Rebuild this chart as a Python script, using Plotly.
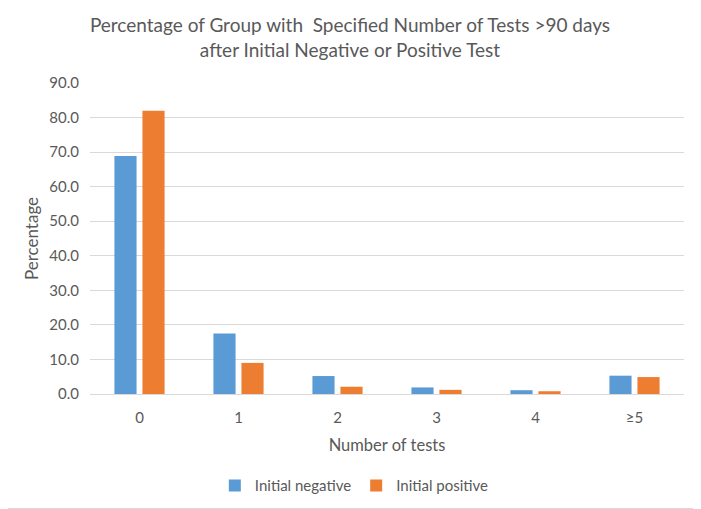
import plotly.graph_objects as go

categories = ["0", "1", "2", "3", "4", "≥5"]
initial_negative = [68.9, 17.5, 5.2, 1.9, 1.1, 5.3]
initial_positive = [82.0, 9.0, 2.1, 1.2, 0.8, 4.9]
y_ticks = [0, 10, 20, 30, 40, 50, 60, 70, 80, 90]

font_family = "Lato, 'Open Sans', sans-serif"
grey = "#595959"

fig = go.Figure()
fig.add_trace(go.Bar(x=categories, y=initial_negative, name="Initial negative",
                     marker=dict(color="#5B9BD5", line=dict(width=0))))
fig.add_trace(go.Bar(x=categories, y=initial_positive, name="Initial positive",
                     marker=dict(color="#ED7D31", line=dict(width=0))))

# page body adds an 8px offset, so the figure is sized to end at the window edge
W, H = 693, 501
L, R, T, B = 82, 17, 75, 115
pw, ph = W - L - R, H - T - B

fig.update_layout(
    width=W, height=H,
    margin=dict(l=L, r=R, t=T, b=B, autoexpand=False),
    paper_bgcolor="white", plot_bgcolor="white",
    font=dict(family=font_family, color=grey, size=14),
    title=dict(text="Percentage of Group with  Specified Number of Tests >90 days<br>after Initial Negative or Positive Test",
               x=0.4935, xanchor="center", y=0.952, yanchor="top",
               font=dict(size=19, color=grey), automargin=False),
    barmode="group", bargap=0.434, bargroupgap=0.21,
    xaxis=dict(title=dict(text="Number of tests", font=dict(size=16.5), standoff=14),
               showline=True, linecolor="#d9d9d9", tickfont=dict(size=15), ticks="",
               ticklabelstandoff=10, automargin=False),
    yaxis=dict(title=dict(text="Percentage", font=dict(size=17), standoff=6),
               range=[0, 90], tickvals=y_ticks, tickformat=".1f",
               showgrid=True, gridcolor="#d9d9d9", gridwidth=1, zeroline=False,
               tickfont=dict(size=15), ticks="", ticklabelstandoff=10, automargin=False),
    legend=dict(orientation="h", x=0.445, xanchor="center", y=-0.295, yanchor="middle",
                font=dict(size=15), itemwidth=30),
    shapes=[dict(type="rect", xref="paper", yref="paper",
                 x0=(-7.5 - L) / pw, x1=(W - 1 - L) / pw,
                 y0=(0.5 - B) / ph, y1=(H + 7.5 - B) / ph,
                 line=dict(color="#d9d9d9", width=1), layer="below")],
)

fig.write_html("out.html")
